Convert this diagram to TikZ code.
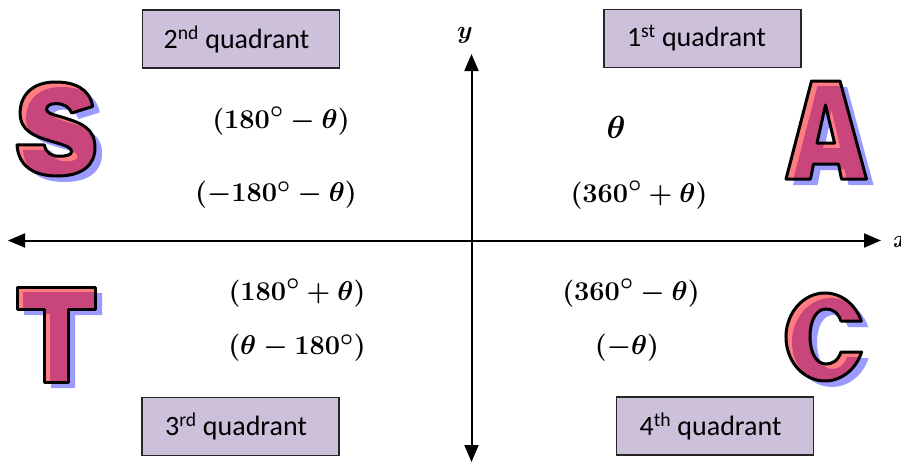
\documentclass[tikz,border=0pt]{standalone}
\usepackage{graphicx}
\usepackage{fontspec}
\newfontfamily\carlito{Carlito}
\usetikzlibrary{arrows.meta}
\definecolor{letterpink}{RGB}{201,70,125}
\definecolor{lettersalmon}{RGB}{255,124,128}
\definecolor{lettershadow}{RGB}{155,155,255}
\definecolor{boxfill}{RGB}{204,192,218}
\definecolor{boxline}{RGB}{38,38,38}
\newcommand\fancyletter[1]{%
  \fill[lettershadow, even odd rule, shift={(7pt,-6pt)}] #1;
  \fill[lettersalmon, even odd rule] #1;
  \begin{scope}[even odd rule]
    \clip #1;
    \fill[letterpink, shift={(6pt,-5pt)}] #1;
  \end{scope}
  \draw[black, line width=3pt, line join=round] #1;
}
\newcommand\bigmath[2]{\scalebox{#1}{$#2$}}
\newcommand\bb[1]{\mathbf{#1}}
\begin{document}
\begin{tikzpicture}[x=1pt, y=-1pt,
  qbox/.style={draw=boxline, line width=1.2pt, fill=boxfill, minimum width=197pt,
    minimum height=58pt, inner sep=0pt, font=\carlito\fontsize{28}{32}\selectfont},
  expr/.style={font=\fontsize{24.88}{30}\selectfont\boldmath, inner sep=0pt},
  axis/.style={line width=2pt, {Triangle[length=17pt,width=14pt]}-{Triangle[length=17pt,width=14pt]}}]
\fill[white] (0,0) rectangle (901,466);
\useasboundingbox (0,0) rectangle (901,466);

% quadrant boxes
\node[qbox] (q2) at (241,39) {\hspace*{-9pt}2\textsuperscript{nd} quadrant};
\node[qbox] (q1) at (702.5,38.5) {\hspace*{-12pt}1\textsuperscript{st} quadrant};
\node[qbox] (q3) at (240.5,426.5) {\hspace*{-9pt}3\textsuperscript{rd} quadrant};
\node[qbox] (q4) at (715,426) {\hspace*{-9pt}4\textsuperscript{th} quadrant};

% axes
\coordinate (xl) at (8,240.5);
\coordinate (xr) at (881,240.5);
\coordinate (yt) at (471.5,54);
\coordinate (yb) at (471.5,462);
\draw[axis] (xl) -- (xr);
\draw[axis] (yb) -- (yt);
\node[expr] (ylab) at (465,35) {$y$};
\node[expr, anchor=west] (xlab) at (893,242) {$x$};

% expressions
\node[expr] (e1) at (281,121) {\bigmath{1.09}{\bb{(180}^{\circ}-\theta\bb{)}}};
\node[expr] (e2) at (276,195) {\bigmath{1.09}{\bb{(}{-}\bb{180}^{\circ}-\theta\bb{)}}};
\node[expr] (e3) at (616,127) {\bigmath{1.28}{\theta}};
\node[expr] (e4) at (639,195) {\bigmath{1.09}{\bb{(360}^{\circ}+\theta\bb{)}}};
\node[expr] (e5) at (297,293) {\bigmath{1.09}{\bb{(180}^{\circ}+\theta\bb{)}}};
\node[expr] (e6) at (297,348) {\bigmath{1.09}{\bb{(}\theta-\bb{180}^{\circ}\bb{)}}};
\node[expr] (e7) at (631,293) {\bigmath{1.09}{\bb{(360}^{\circ}-\theta\bb{)}}};
\node[expr] (e8) at (627,348) {\bigmath{1.09}{\bb{(}{-}\theta\bb{)}}};

% letter S
\begin{scope}[shift={(17pt,-82pt)}, x=78pt, y=-94pt]
\fancyletter{(0.97,0.26) .. controls (0.93,0.07) and (0.74,0) .. (0.49,0)
 .. controls (0.20,0) and (0.04,0.14) .. (0.04,0.33)
 .. controls (0.04,0.52) and (0.22,0.58) .. (0.48,0.64)
 .. controls (0.64,0.68) and (0.70,0.70) .. (0.70,0.74)
 .. controls (0.70,0.78) and (0.62,0.79) .. (0.54,0.79)
 .. controls (0.44,0.79) and (0.37,0.75) .. (0.35,0.67)
 -- (0,0.67)
 .. controls (0.02,0.90) and (0.22,1) .. (0.52,1)
 .. controls (0.84,1) and (1,0.88) .. (1,0.70)
 .. controls (1,0.50) and (0.85,0.44) .. (0.56,0.37)
 .. controls (0.42,0.34) and (0.38,0.32) .. (0.38,0.29)
 .. controls (0.38,0.25) and (0.43,0.23) .. (0.50,0.23)
 .. controls (0.60,0.23) and (0.68,0.27) .. (0.70,0.33)
 -- cycle}
\end{scope}

% letter A
\fancyletter{(786,179) -- (811.5,81) -- (840,81) -- (866.5,179) -- (841.5,179)
 -- (838.5,164) -- (813.5,164) -- (810.5,179) -- cycle
 (825.5,105) -- (817,143) -- (834.5,143) -- cycle}

% letter T
\fancyletter{(17,287) -- (95,287) -- (95,309) -- (68,309) -- (68,382)
 -- (44,382) -- (44,309) -- (17,309) -- cycle}

% letter C
\fancyletter{(861.3,321) arc[start angle=-21.3, end angle=-340, x radius=39, y radius=44]
 -- (841,352) .. controls (838,361) and (832,364) .. (826,364)
 .. controls (816,364) and (810,352) .. (810,336.5)
 .. controls (810,321) and (816,309) .. (826,309)
 .. controls (832,309) and (838,312) .. (841,321) -- cycle}
\end{tikzpicture}
\end{document}
